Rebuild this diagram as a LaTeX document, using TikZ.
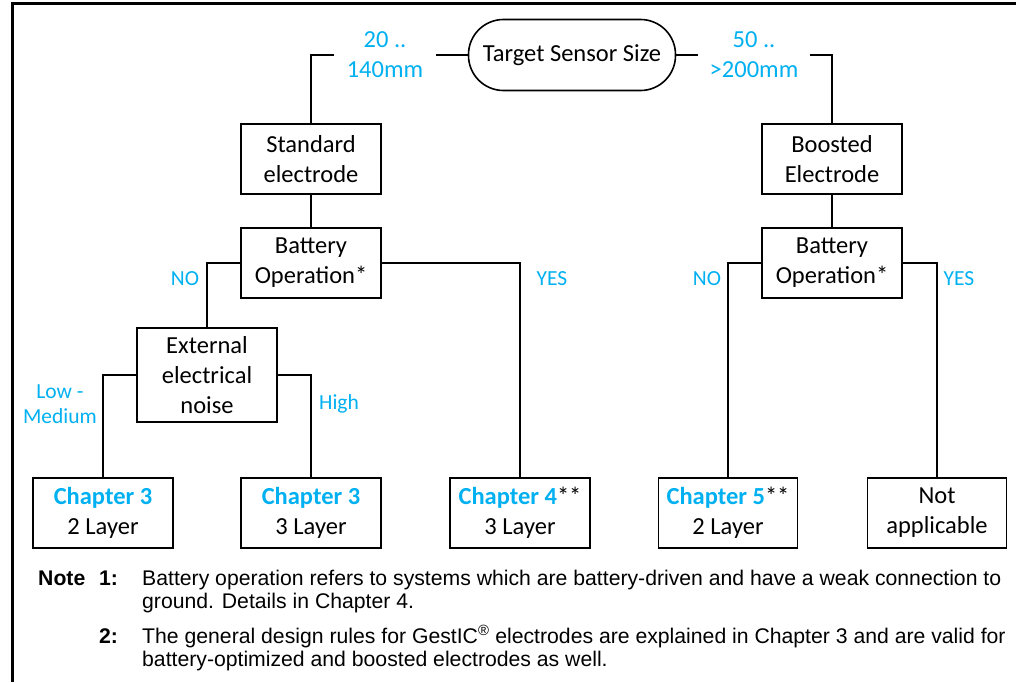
\documentclass[tikz,border=0pt]{standalone}
\usepackage{fontspec}
\setmainfont{Carlito}
\newfontfamily\arialf{Liberation Sans}
\definecolor{cyanlbl}{HTML}{00B0F0}
\begin{document}
\begin{tikzpicture}[x=1pt,y=-1pt,
  box/.style={draw, line width=1.6pt, minimum width=140pt, minimum height=70pt, align=center, inner sep=0pt, font=\fontsize{24.5}{30}\selectfont},
  term/.style={draw, line width=1.6pt, rounded corners=35pt, minimum width=207pt, minimum height=71pt, align=center, inner sep=0pt, font=\fontsize{24.5}{30}\selectfont},
  conn/.style={line width=1.6pt},
  lbl/.style={text=cyanlbl, align=center, inner sep=0pt, font=\fontsize{21.5}{25}\selectfont},
  toplbl/.style={text=cyanlbl, align=center, inner sep=0pt, font=\fontsize{24.5}{30}\selectfont},
  notef/.style={anchor=base west, inner sep=0pt, font=\arialf\fontsize{21.2}{23}\selectfont},
  noteb/.style={notef, font=\arialf\bfseries\fontsize{21.2}{23}\selectfont}
]
\useasboundingbox (0,0) rectangle (1016,682);
\draw[line width=3pt] (12,682) -- (12,4) -- (1016,4);

\node[term] (target) at (572,55) {Target Sensor Size};
\node[toplbl, minimum width=101pt] (l20) at (385,55) {20 ..\\140mm};
\node[toplbl, minimum width=112pt] (l50) at (754,55) {50 ..\\>200mm};

\node[box] (std) at (311,159) {Standard\\electrode};
\node[box] (boost) at (832,159) {Boosted\\Electrode};
\node[box] (bat1) at (311,263) {Battery\\Operation*};
\node[box] (bat2) at (832,263) {Battery\\Operation*};
\node[box, minimum height=94pt] (ext) at (207,375) {External\\electrical\\noise};

\node[box] (c3a) at (103,513) {\textcolor{cyanlbl}{\bfseries Chapter 3}\\2 Layer};
\node[box] (c3b) at (311,513) {\textcolor{cyanlbl}{\bfseries Chapter 3}\\3 Layer};
\node[box] (c4) at (520,513) {\textcolor{cyanlbl}{\bfseries Chapter 4}**\\3 Layer};
\node[box, minimum width=139pt] (c5) at (728,513) {\textcolor{cyanlbl}{\bfseries Chapter 5}**\\2 Layer};
\node[box, minimum width=139pt] (na) at (937,513) {Not\\applicable};

\draw[conn] (target.west) -- (l20.east);
\draw[conn] (l20.west) -| (std.north);
\draw[conn] (target.east) -- (l50.west);
\draw[conn] (l50.east) -| (boost.north);
\draw[conn] (std.south) -- (bat1.north);
\draw[conn] (boost.south) -- (bat2.north);
\draw[conn] (bat1.west) -| (ext.north);
\draw[conn] (bat1.east) -| (c4.north);
\draw[conn] (ext.west) -| (c3a.north);
\draw[conn] (ext.east) -| (c3b.north);
\draw[conn] (bat2.west) -| (c5.north);
\draw[conn] (bat2.east) -| (na.north);

\node[lbl] (no1) at (185,279) {NO};
\node[lbl] (yes1) at (552,279) {YES};
\node[lbl] (no2) at (707,279) {NO};
\node[lbl] (yes2) at (959,279) {YES};
\node[lbl] (lowmed) at (60,404) {Low -\\Medium};
\node[lbl] (high) at (339,404) {High};

\node[noteb] (note) at (38,585) {Note};
\node[noteb] (n1) at (99,585) {1:};
\node[notef] (t1a) at (142,585) {Battery operation refers to systems which are battery-driven and have a weak connection to};
\node[notef] (t1b) at (142,608) {ground. Details in Chapter 4.};
\node[noteb] (n2) at (99,643) {2:};
\node[notef] (t2a) at (142,643) {The general design rules for GestIC\textsuperscript{\textregistered} electrodes are explained in Chapter 3 and are valid for};
\node[notef] (t2b) at (142,666) {battery-optimized and boosted electrodes as well.};
\end{tikzpicture}
\end{document}
